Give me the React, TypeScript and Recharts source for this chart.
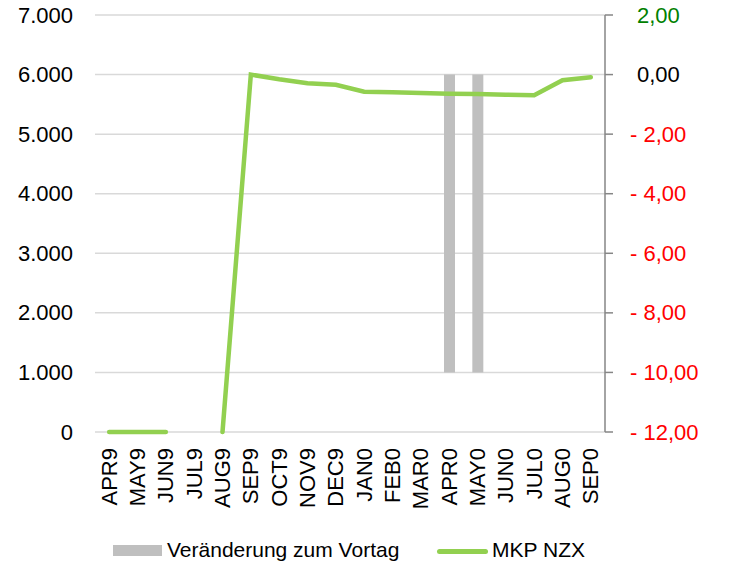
import React from 'react';
import { ComposedChart, Bar, Line, XAxis, YAxis, CartesianGrid, Legend } from 'recharts';

const categories = ['APR9','MAY9','JUN9','JUL9','AUG9','SEP9','OCT9','NOV9','DEC9','JAN0','FEB0','MAR0','APR0','MAY0','JUN0','JUL0','AUG0','SEP0'];
const mkpValues: (number | null)[] = [0, 0, 0, null, 0, 6000, 5920, 5855, 5830, 5713, 5705, 5690, 5680, 5672, 5663, 5654, 5906, 5956];
const changeValues: (number | null)[] = [null, null, null, null, null, null, null, null, null, null, null, null, -10, -10, null, null, null, null];
const leftTicks = [0, 1000, 2000, 3000, 4000, 5000, 6000, 7000];
const rightTicks = [-12, -10, -8, -6, -4, -2, 0, 2];

const data = categories.map((c, i) => ({ cat: c, mkp: mkpValues[i], change: changeValues[i] }));

const FONT = '"Liberation Sans", Arial, sans-serif';

const fmtLeft = (v: number) => (v === 0 ? '0' : v.toLocaleString('de-DE'));

const LeftTick = (props: any) => {
  const { x, y, payload } = props;
  return (
    <text x={x - 22} y={y} textAnchor="end" dominantBaseline="central" fontSize={22} fontFamily={FONT} fill="#000">
      {fmtLeft(payload.value)}
    </text>
  );
};

const RightTick = (props: any) => {
  const { x, y, payload } = props;
  const v = payload.value as number;
  const abs = Math.abs(v).toFixed(2).replace('.', ',');
  const label = v < 0 ? `- ${abs}` : abs;
  const color = v < 0 ? '#ff0000' : v > 0 ? '#008000' : '#000000';
  return (
    <text x={x + (v < 0 ? 17 : 24)} y={y} textAnchor="start" dominantBaseline="central" fontSize={22} fontFamily={FONT} fill={color}>
      {label}
    </text>
  );
};

const XTick = (props: any) => {
  const { x, y, payload } = props;
  return (
    <g transform={`translate(${x},${y})`}>
      <text transform="rotate(-90)" x={-16} y={0} textAnchor="end" dominantBaseline="central" fontSize={22} fontFamily={FONT} fill="#000">
        {payload.value}
      </text>
    </g>
  );
};

const LegendContent = () => (
  <div style={{ position: 'relative', width: 729, height: 54, fontFamily: FONT, fontSize: 21, color: '#000' }}>
    <div style={{ position: 'absolute', left: 113, top: 33, width: 49, height: 11, background: '#bfbfbf' }} />
    <div style={{ position: 'absolute', left: 167, top: 26, lineHeight: '24px', whiteSpace: 'nowrap' }}>Veränderung zum Vortag</div>
    <div style={{ position: 'absolute', left: 437, top: 37, width: 51, height: 5, borderRadius: 3, background: '#92d050' }} />
    <div style={{ position: 'absolute', left: 492, top: 26, lineHeight: '24px', whiteSpace: 'nowrap' }}>MKP NZX</div>
  </div>
);

export default function App() {
  return (
    <div style={{ position: 'absolute', left: 0, top: 0, width: 729, height: 566, background: '#fff' }}>
      <ComposedChart width={729} height={566} data={data} margin={{ top: 15, right: 0, bottom: 0, left: 0 }} barGap={0}>
        <CartesianGrid yAxisId="left" vertical={false} stroke="#d9d9d9" strokeWidth={1.5} />
        <XAxis
          dataKey="cat"
          interval={0}
          height={80}
          tickLine={false}
          tickSize={0}
          tickMargin={0}
          axisLine={false}
          tick={<XTick />}
        />
        <YAxis
          yAxisId="left"
          orientation="left"
          width={95}
          domain={[0, 7000]}
          ticks={leftTicks}
          axisLine={false}
          tickLine={false}
          tickSize={0}
          tickMargin={0}
          tick={<LeftTick />}
        />
        <YAxis
          yAxisId="right"
          orientation="right"
          width={124}
          domain={[-12, 2]}
          ticks={rightTicks}
          axisLine={{ stroke: '#868686', strokeWidth: 1.5 }}
          tickLine={{ stroke: '#868686', strokeWidth: 1.5 }}
          tickSize={8}
          tickMargin={0}
          tick={<RightTick />}
        />
        <Bar yAxisId="right" dataKey="change" name="Veränderung zum Vortag" fill="#bfbfbf" barSize={11} isAnimationActive={false} />
        <Line
          yAxisId="left"
          dataKey="mkp"
          name="MKP NZX"
          stroke="#92d050"
          strokeWidth={4.5}
          strokeLinecap="round"
          strokeLinejoin="miter"
          dot={false}
          activeDot={false}
          connectNulls={false}
          type="linear"
          isAnimationActive={false}
        />
        <Legend verticalAlign="bottom" height={54} wrapperStyle={{ left: 0, bottom: 0, width: 729, height: 54 }} content={<LegendContent />} />
      </ComposedChart>
    </div>
  );
}
